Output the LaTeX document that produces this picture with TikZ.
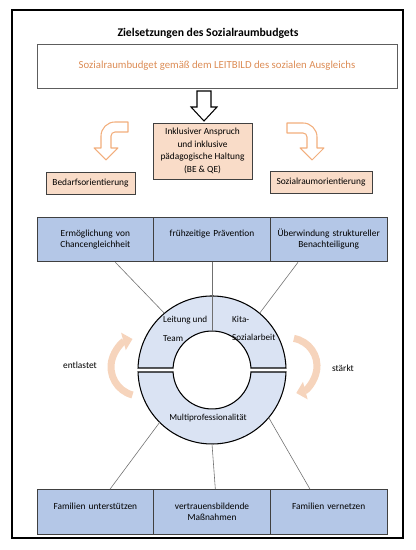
\documentclass[tikz,border=0pt]{standalone}
\usepackage{fontspec}
\setmainfont{Carlito}
\usetikzlibrary{arrows.meta}

\begin{document}
\begin{tikzpicture}[x=0.3mm, y=0.3mm,
  kasten/.style={draw=randDunkel, line width=0.8pt, fill=pfirsich, align=center,
    inner sep=0pt, font=\fontsize{8}{10.8}\selectfont},
  zelle/.style={draw=randDunkel, line width=0.8pt, fill=zielBlau, minimum width=35mm,
    minimum height=13.4mm, text width=32mm, align=center, inner sep=0pt,
    font=\fontsize{8}{9.4}\selectfont},
  einzeilig/.style={text depth=10pt},
  bogenpfeil/.style={draw=orangeRand, line width=0.9pt, fill=white, line join=round},
  kreispfeil/.style={draw=kreisPfirsich, line width=6pt,
    -{Triangle[width=15pt,length=8pt]}},
  verbindung/.style={draw=linienGrau, line width=0.5pt},
  ringteil/.style={draw=black, line width=0.9pt, fill=ringBlau},
  ringtext/.style={font=\fontsize{7.8}{16}\selectfont, align=left, inner sep=0pt},
  randtext/.style={font=\fontsize{8}{10}\selectfont, inner sep=0pt}]

% Farben
\definecolor{pfirsich}{HTML}{F9DCC8}
\definecolor{zielBlau}{HTML}{B4C7E7}
\definecolor{ringBlau}{HTML}{DAE3F3}
\definecolor{orangeText}{HTML}{DC8C55}
\definecolor{orangeRand}{HTML}{F2AE7C}
\definecolor{kreisPfirsich}{HTML}{F6D4BC}
\definecolor{randDunkel}{HTML}{404040}
\definecolor{linienGrau}{HTML}{707070}

% Radien des Rings
\def\ra{74}
\def\ri{39}

% Rahmen
\useasboundingbox (0,0) rectangle (415,550);
\draw[line width=1pt] (12,12) rectangle (403,540);

% Titel
\node[font=\fontsize{10}{12}\selectfont\bfseries] (titel) at (208,517) {Zielsetzungen des Sozialraumbudgets};

% Leitbild
\node[draw=randDunkel!85, line width=0.8pt, minimum width=108mm, minimum height=13.2mm,
  font=\fontsize{9.2}{11}\selectfont, text=orangeText] (leitbild) at (217,484)
  {Sozialraumbudget gemäß dem LEITBILD des sozialen Ausgleichs};

% Pfeil nach unten
\draw[line width=0.9pt, fill=white, line join=miter]
  (197,459) -- (211,459) -- (211,443) -- (217,443) -- (204,429) -- (191,443) -- (197,443) -- cycle;

% Haltung und Orientierungen
\node[kasten, minimum width=29.7mm, minimum height=16.8mm] (haltung) at (202.5,399)
  {Inklusiver Anspruch\\und inklusive\\pädagogische Haltung\\(BE \& QE)};
\node[kasten, minimum width=26.7mm, minimum height=6.6mm] (bedarf) at (90.5,367) {Bedarfsorientierung};
\node[kasten, minimum width=30.6mm, minimum height=6.6mm] (sozialraum) at (321,368) {Sozialraumorientierung};

% gebogene Pfeile
\draw[bogenpfeil] (128,428) -- (115,428) arc[start angle=90, end angle=180, radius=14]
  -- (101,402) -- (94,402) -- (106,390) -- (118,402) -- (111,402) -- (111,414)
  arc[start angle=180, end angle=90, radius=4] -- (128,418) -- cycle;
\draw[bogenpfeil] (287,427) -- (303,427) arc[start angle=90, end angle=0, radius=14]
  -- (317,402) -- (324,402) -- (312,390) -- (300,402) -- (307,402) -- (307,413)
  arc[start angle=0, end angle=90, radius=4] -- (287,417) -- cycle;

% Ziele oben
\node[zelle] (ziel1) at (95.33,310.5) {Ermöglichung von\\Chancengleichheit};
\node[zelle, einzeilig] (ziel2) at (212,310.5) {frühzeitige Prävention};
\node[zelle] (ziel3) at (328.67,310.5) {Überwindung struktureller\\Benachteiligung};

% Ziele unten
\node[zelle, einzeilig] (fam1) at (95.33,38) {Familien unterstützen};
\node[zelle] (fam2) at (212,38) {vertrauensbildende\\Maßnahmen};
\node[zelle, einzeilig] (fam3) at (328.67,38) {Familien vernetzen};

% Ring
\coordinate (M) at (212,180);
\draw[ringteil] ([shift={(1.55:\ra)}]M) arc[start angle=1.55, end angle=178.45, radius=\ra]
  -- ([shift={(177.06:\ri)}]M) arc[start angle=177.06, end angle=2.94, radius=\ri] -- cycle;
\draw[ringteil] ([shift={(-1.55:\ra)}]M) arc[start angle=-1.55, end angle=-178.45, radius=\ra]
  -- ([shift={(-177.06:\ri)}]M) arc[start angle=-177.06, end angle=-2.94, radius=\ri] -- cycle;

\path (M) ++(130:\ra) coordinate (ringOL)
      (M) ++(50:\ra) coordinate (ringOR)
      (M) ++(90:\ri) coordinate (ringInnen)
      (M) ++(225:\ra) coordinate (ringUL)
      (M) ++(270:\ra) coordinate (ringU)
      (M) ++(-40:\ra) coordinate (ringUR);

% Verbindungen
\draw[verbindung] ([xshift=6mm]ziel1.south) -- (ringOL);
\draw[verbindung] (ziel2.south) -- (ringInnen);
\draw[verbindung] ([xshift=-9.2mm]ziel3.south) -- (ringOR);
\draw[verbindung] (ringUL) -- ([xshift=4.4mm]fam1.north);
\draw[verbindung] (ringU) -- ([xshift=1mm]fam2.north);
\draw[verbindung] (ringUR) -- ([xshift=-5.6mm]fam3.north);

% Texte im Ring
\node[ringtext, anchor=west] (leitung) at (163,221.5) {Leitung und\\Team};
\node[ringtext, anchor=west] (kita) at (232,221.5) {Kita-\\Sozialarbeit};
\node[ringtext] (multi) at (208,132) {Multiprofessionalität};

% Kreispfeile
\draw[kreispfeil] (140,183) ++(255:29) arc[start angle=255, end angle=105, radius=29];
\draw[kreispfeil] (289,184) ++(80:28) arc[start angle=80, end angle=-75, radius=28];
\node[randtext] (entlastet) at (80,185) {entlastet};
\node[randtext] (staerkt) at (343,182) {stärkt};

\end{tikzpicture}
\end{document}
